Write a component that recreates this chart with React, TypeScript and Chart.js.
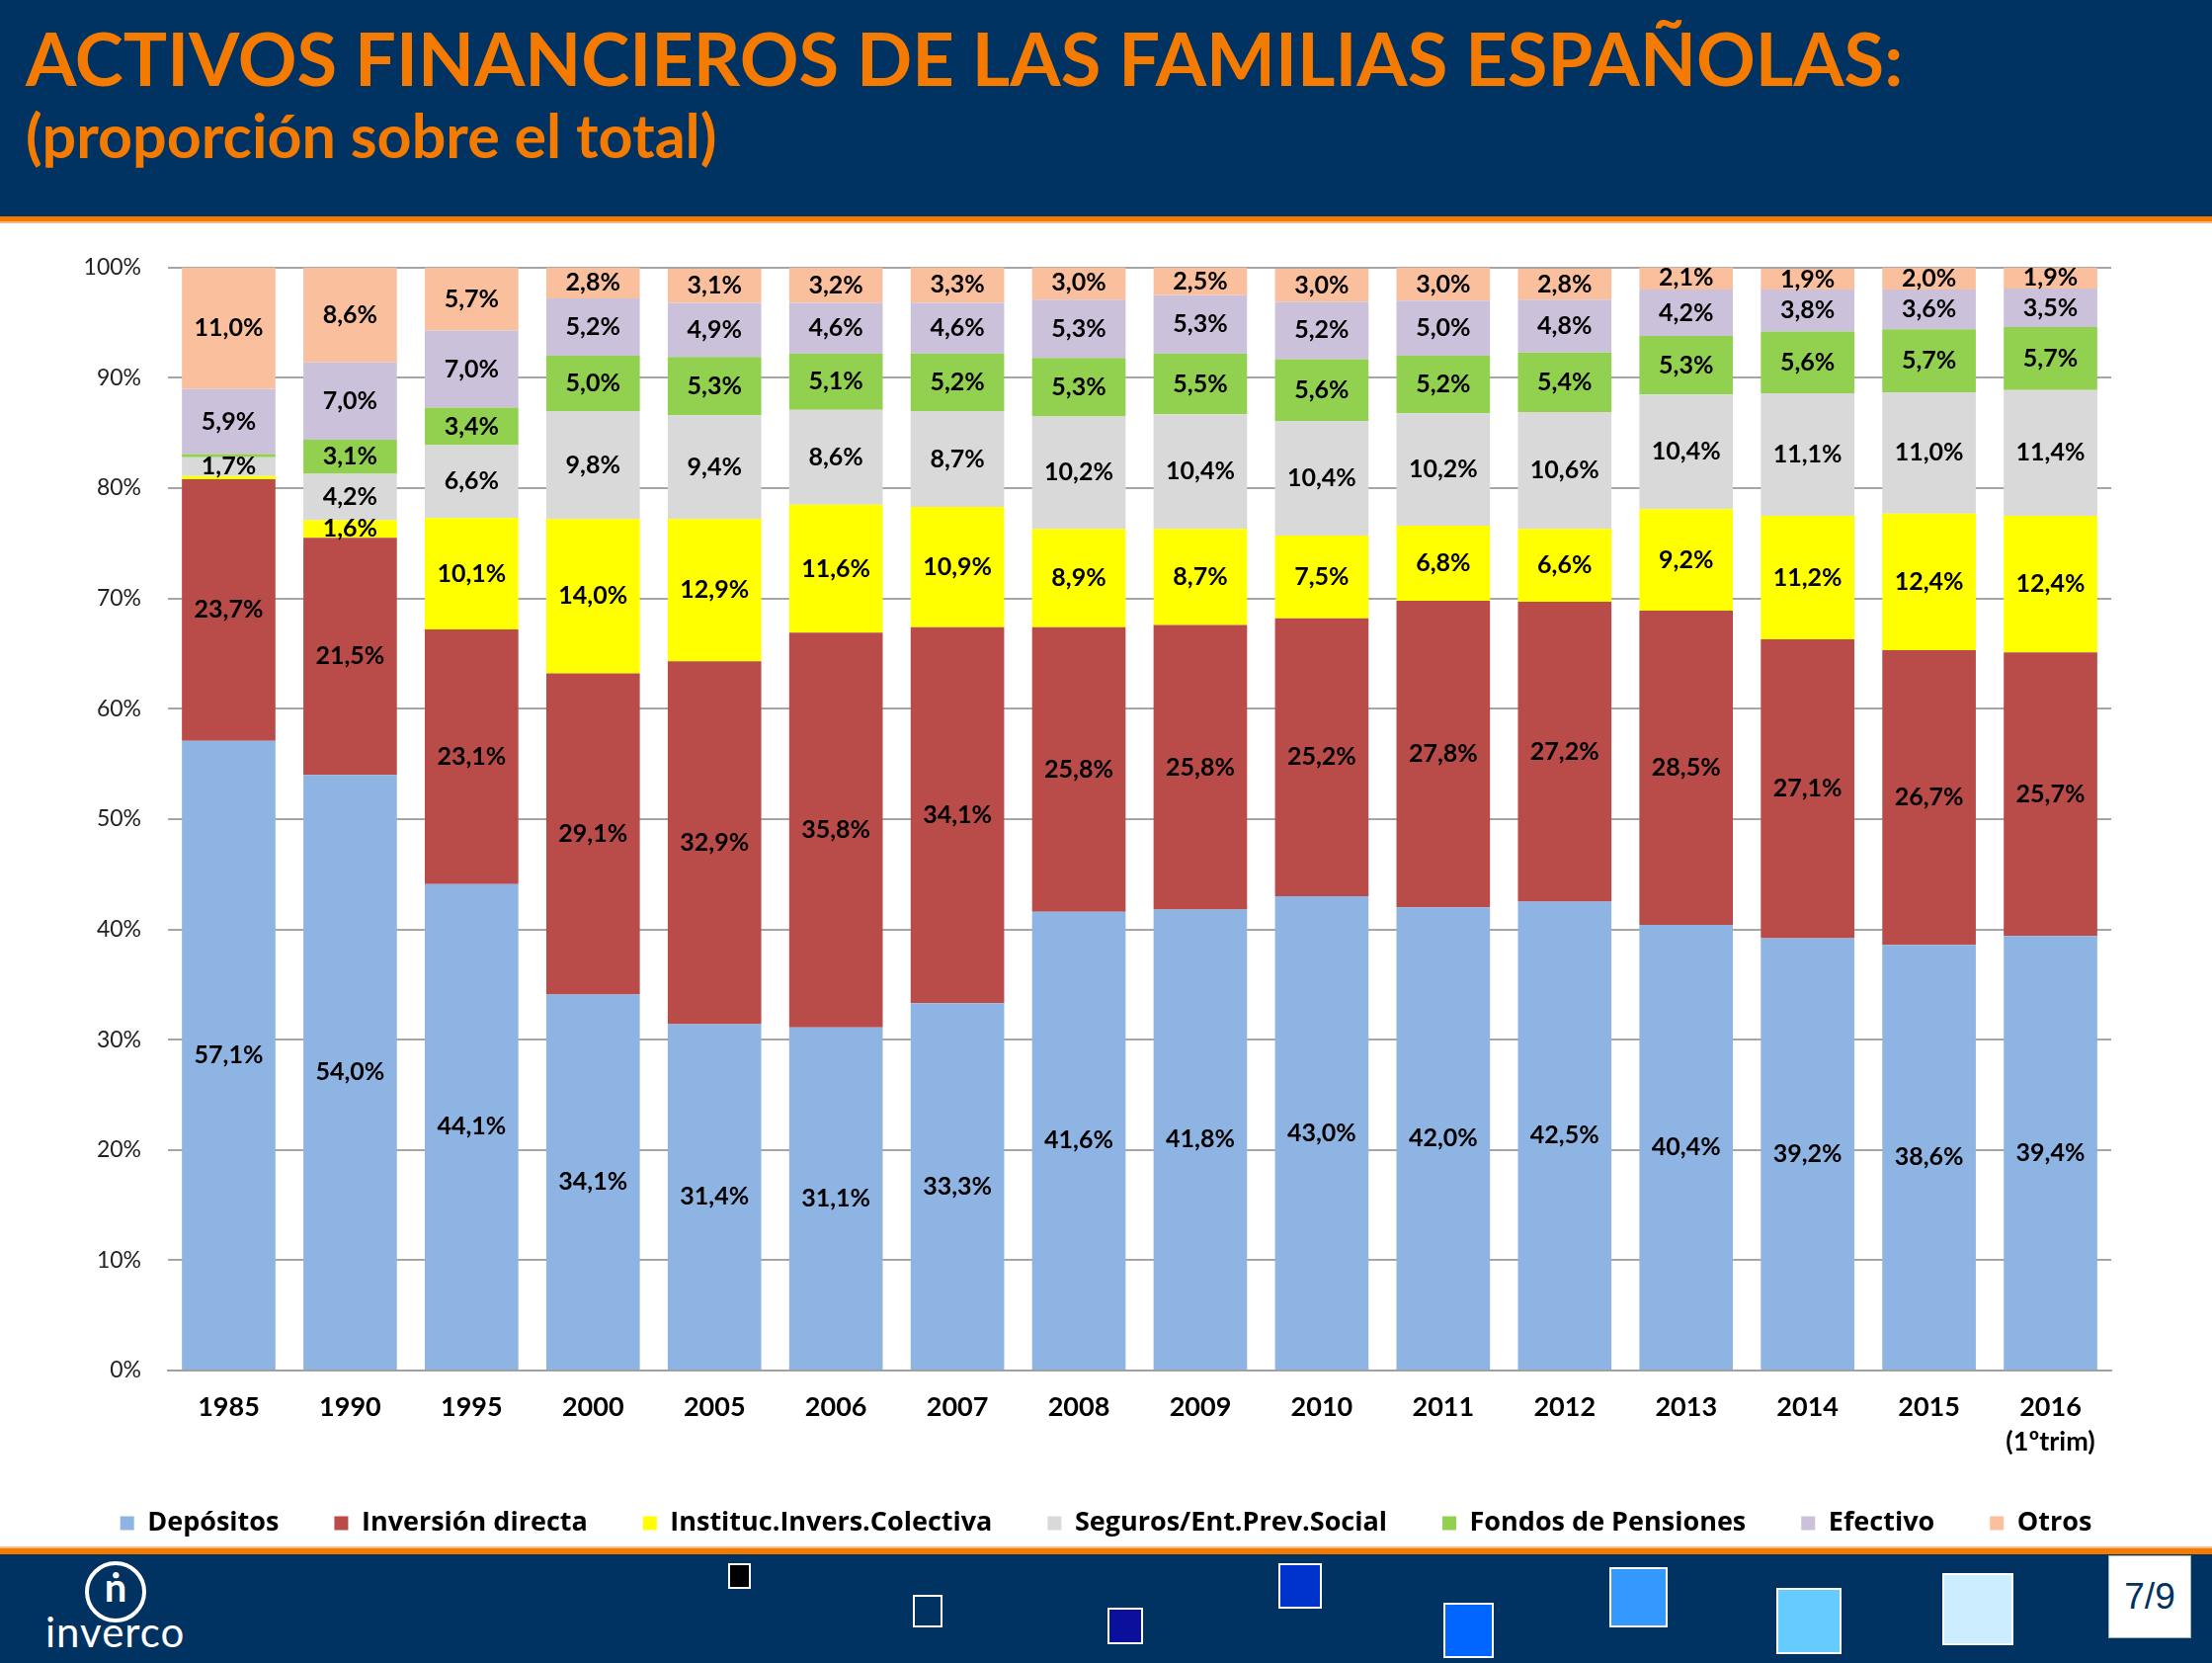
import React, { useEffect, useRef } from 'react';
import { Chart, registerables } from 'chart.js';

Chart.register(...registerables);

const years: (string | string[])[] = ['1985', '1990', '1995', '2000', '2005', '2006', '2007', '2008', '2009', '2010', '2011', '2012', '2013', '2014', '2015', ['2016', '(1ºtrim)']];
const seriesNames = ['Depósitos', 'Inversión directa', 'Instituc.Invers.Colectiva', 'Seguros/Ent.Prev.Social', 'Fondos de Pensiones', 'Efectivo', 'Otros'];
const depositos = [57.1, 54.0, 44.1, 34.1, 31.4, 31.1, 33.3, 41.6, 41.8, 43.0, 42.0, 42.5, 40.4, 39.2, 38.6, 39.4];
const inversionDirecta = [23.7, 21.5, 23.1, 29.1, 32.9, 35.8, 34.1, 25.8, 25.8, 25.2, 27.8, 27.2, 28.5, 27.1, 26.7, 25.7];
const iic = [0.3, 1.6, 10.1, 14.0, 12.9, 11.6, 10.9, 8.9, 8.7, 7.5, 6.8, 6.6, 9.2, 11.2, 12.4, 12.4];
const seguros = [1.7, 4.2, 6.6, 9.8, 9.4, 8.6, 8.7, 10.2, 10.4, 10.4, 10.2, 10.6, 10.4, 11.1, 11.0, 11.4];
const fondosPensiones = [0.3, 3.1, 3.4, 5.0, 5.3, 5.1, 5.2, 5.3, 5.5, 5.6, 5.2, 5.4, 5.3, 5.6, 5.7, 5.7];
const efectivo = [5.9, 7.0, 7.0, 5.2, 4.9, 4.6, 4.6, 5.3, 5.3, 5.2, 5.0, 4.8, 4.2, 3.8, 3.6, 3.5];
const otros = [11.0, 8.6, 5.7, 2.8, 3.1, 3.2, 3.3, 3.0, 2.5, 3.0, 3.0, 2.8, 2.1, 1.9, 2.0, 1.9];
const seriesColors = ['#8EB4E3', '#B94B48', '#FFFF00', '#D9D9D9', '#92D050', '#CCC1DA', '#FAC09E'];
const yTicks = [0, 10, 20, 30, 40, 50, 60, 70, 80, 90, 100];

const NAVY = '#003262';
const ORANGE = '#F47A00';

const segLabels = {
  id: 'segLabels',
  afterDatasetsDraw(chart: any) {
    const ctx = chart.ctx;
    ctx.save();
    ctx.font = 'bold 25px Lato';
    ctx.fillStyle = '#000';
    ctx.textAlign = 'center';
    ctx.textBaseline = 'middle';
    chart.data.datasets.forEach((ds: any, i: number) => {
      const meta = chart.getDatasetMeta(i);
      meta.data.forEach((el: any, j: number) => {
        const v = ds.data[j] as number;
        if (v < 1) return;
        const p = el.getProps(['x', 'y', 'base'], true);
        ctx.fillText(v.toFixed(1).replace('.', ',') + '%', p.x, (p.y + p.base) / 2);
      });
    });
    ctx.restore();
  },
};

function StackChart() {
  const ref = useRef<HTMLCanvasElement>(null);
  useEffect(() => {
    if (!ref.current) return;
    const all = [depositos, inversionDirecta, iic, seguros, fondosPensiones, efectivo, otros];
    const chart = new Chart(ref.current, {
      type: 'bar',
      data: {
        labels: years,
        datasets: all.map((d, i) => ({
          label: seriesNames[i],
          data: d,
          backgroundColor: seriesColors[i],
          borderWidth: 0,
          barPercentage: 0.77,
          categoryPercentage: 1,
          yAxisID: 'y',
        })),
      },
      options: {
        animation: false,
        responsive: false,
        devicePixelRatio: 1,
        layout: { padding: { top: 40, left: 0, right: 0, bottom: 0 } },
        plugins: {
          tooltip: { enabled: false },
          legend: {
            position: 'bottom',
            labels: {
              boxWidth: 14,
              boxHeight: 14,
              padding: 56,
              color: '#000',
              font: { family: 'Open Sans', size: 27, weight: 'bold' },
            },
          },
        },
        scales: {
          x: {
            stacked: true,
            grid: { display: false, drawTicks: false },
            border: { display: true, color: '#A0A0A0', width: 2 },
            ticks: {
              color: '#000',
              padding: 20,
              maxRotation: 0,
              autoSkip: false,
              font: { family: 'Lato', size: 27, weight: 'bold', lineHeight: 1.3 },
            },
            afterFit: (s: any) => { s.height = 85; },
          },
          y: {
            stacked: true,
            min: 0,
            max: 100,
            afterBuildTicks: (s: any) => { s.ticks = yTicks.map((v) => ({ value: v })); },
            grid: { color: '#A6A6A6', lineWidth: 2, drawTicks: false },
            border: { display: false },
            ticks: {
              color: '#222',
              padding: 27,
              font: { family: 'Lato', size: 23 },
              callback: (v: any) => v + '%',
            },
            afterFit: (s: any) => { s.width = 170; },
          },
          yRight: {
            position: 'right',
            display: true,
            grid: { display: false },
            border: { display: false },
            ticks: { display: false },
            afterFit: (s: any) => { s.width = 102; },
          },
        },
      },
      plugins: [segLabels],
    } as any);
    return () => chart.destroy();
  }, []);
  return <canvas ref={ref} width={2239} height={1335} style={{ position: 'absolute', left: 0, top: 230, width: 2239, height: 1335 }} />;
}

export default function App() {
  const sq = (left: number, top: number, w: number, h: number, bg: string) => (
    <div style={{ position: 'absolute', left, top, width: w, height: h, background: bg, border: '2px solid #fff', boxSizing: 'border-box' }} />
  );
  return (
    <div style={{ position: 'absolute', left: 0, top: 0, width: 2239, height: 1683, background: '#fff', overflow: 'hidden', fontFamily: 'Lato, sans-serif' }}>
      <div style={{ position: 'absolute', left: 0, top: 0, width: 2239, height: 219, background: NAVY }} />
      <div style={{ position: 'absolute', left: 0, top: 219, width: 2239, height: 5, background: ORANGE }} />
      <div style={{ position: 'absolute', left: 0, top: 224, width: 2239, height: 2, background: '#F9B98A' }} />
      <div style={{ position: 'absolute', left: 26, top: 22, color: ORANGE, fontSize: 74, fontWeight: 700, lineHeight: 1, whiteSpace: 'nowrap' }}>
        ACTIVOS FINANCIEROS DE LAS FAMILIAS ESPAÑOLAS:
      </div>
      <div style={{ position: 'absolute', left: 26, top: 106, color: ORANGE, fontSize: 61, fontWeight: 700, lineHeight: 1, whiteSpace: 'nowrap' }}>
        (proporción sobre el total)
      </div>

      <div style={{ position: 'absolute', left: 0, top: 1565, width: 2239, height: 2, background: '#F9B98A' }} />
      <div style={{ position: 'absolute', left: 0, top: 1567, width: 2239, height: 6, background: ORANGE }} />
      <div style={{ position: 'absolute', left: 0, top: 1573, width: 2239, height: 110, background: NAVY }} />
      <div style={{ position: 'absolute', left: 86, top: 1580, width: 62, height: 62, borderRadius: '50%', border: '4px solid #fff', boxSizing: 'border-box' }} />
      <div style={{ position: 'absolute', left: 86, top: 1586, width: 62, textAlign: 'center', color: '#fff', fontSize: 40, fontWeight: 700, lineHeight: 1 }}>ṅ</div>
      <div style={{ position: 'absolute', left: 46, top: 1630, color: '#fff', fontSize: 42, fontWeight: 400, lineHeight: 1, letterSpacing: 1 }}>inverco</div>
      {sq(737, 1582, 23, 26, '#000')}
      {sq(924, 1614, 30, 33, NAVY)}
      {sq(1121, 1627, 36, 37, '#0A0F9C')}
      {sq(1294, 1582, 44, 46, '#0033CC')}
      {sq(1461, 1622, 51, 56, '#0066FF')}
      {sq(1629, 1586, 59, 61, '#3399FF')}
      {sq(1798, 1607, 66, 67, '#66CCFF')}
      {sq(1966, 1592, 72, 73, '#CCECFF')}
      <div style={{ position: 'absolute', left: 2134, top: 1574, width: 84, height: 84, background: '#fff', border: '1px solid #9FB0C4', boxSizing: 'border-box', display: 'flex', alignItems: 'center', justifyContent: 'center', color: NAVY, fontFamily: 'Liberation Sans, Arial', fontSize: 37 }}>7/9</div>

      <StackChart />
    </div>
  );
}
